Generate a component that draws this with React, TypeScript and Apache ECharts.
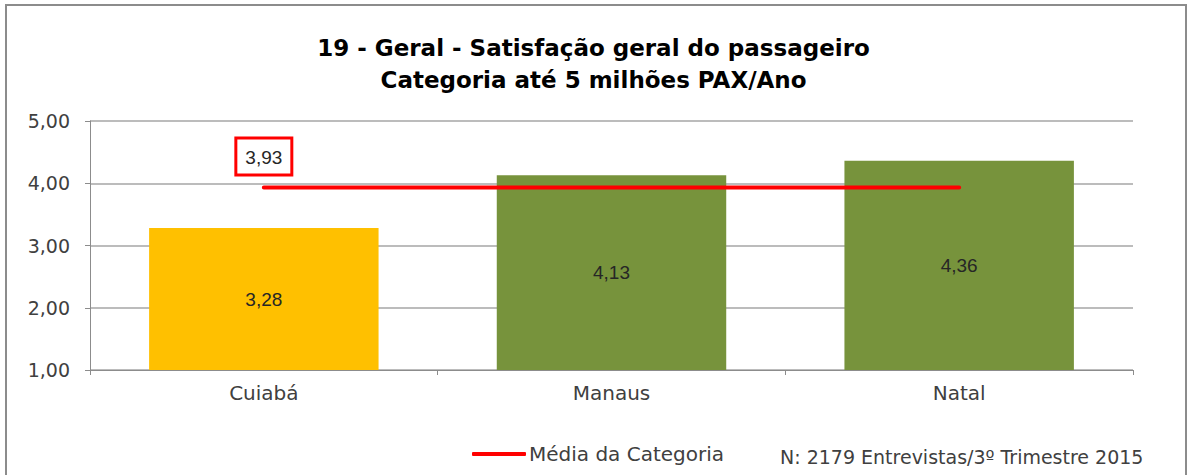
import React, { useEffect, useRef } from "react";
import * as echarts from "echarts";

const titleLines = ["19 - Geral - Satisfação geral do passageiro", "Categoria até 5 milhões PAX/Ano"];
const categories = ["Cuiabá", "Manaus", "Natal"];
const satisfaction = [3.28, 4.13, 4.36];
const barColors = ["#FFC000", "#77933C", "#77933C"];
const categoryAverage = [3.93, 3.93, 3.93];
const averageName = "Média da Categoria";
const footnote = "N: 2179 Entrevistas/3º Trimestre 2015";

const FONT = "'DejaVu Sans', sans-serif";
const LABEL_FONT = "'Liberation Sans', Arial, sans-serif";
const fmt = (v: number) => v.toFixed(2).replace(".", ",");

export default function App() {
  const ref = useRef<HTMLDivElement>(null);
  useEffect(() => {
    if (!ref.current) return;
    const chart = echarts.init(ref.current, null, { renderer: "svg" });
    chart.setOption({
      animation: false,
      backgroundColor: "#ffffff",
      textStyle: { fontFamily: FONT },
      title: {
        text: titleLines.join("\n"),
        left: "center",
        top: 27,
        textStyle: { fontFamily: FONT, fontSize: 23, fontWeight: "bold", color: "#000", lineHeight: 32 },
      },
      grid: { left: 90, right: 54, top: 121, bottom: 105 },
      legend: {
        data: [{ name: averageName, icon: "roundRect" }],
        left: 467,
        top: 439,
        itemWidth: 54,
        itemHeight: 4,
        itemGap: 4,
        textStyle: { fontFamily: FONT, fontSize: 20, color: "#404040", padding: [0, 0, 0, -2] },
      },
      xAxis: {
        type: "category",
        data: categories,
        axisLine: { show: true, lineStyle: { color: "#8C8C8C", width: 1 } },
        axisTick: { show: true, length: 5, lineStyle: { color: "#8C8C8C" } },
        axisLabel: { fontFamily: FONT, fontSize: 20, color: "#404040", margin: 13 },
      },
      yAxis: {
        type: "value",
        min: 1,
        max: 5,
        interval: 1,
        axisLine: { show: true, lineStyle: { color: "#8C8C8C", width: 1 } },
        axisTick: { show: true, length: 5, lineStyle: { color: "#8C8C8C" } },
        axisLabel: { fontFamily: FONT, fontSize: 19, color: "#404040", margin: 20, formatter: (v: number) => fmt(v) },
        splitLine: { lineStyle: { color: "#A6A6A6", width: 1.5 } },
      },
      series: [
        {
          type: "bar",
          name: "Satisfação",
          barWidth: "66%",
          data: satisfaction.map((v, i) => ({ value: v, itemStyle: { color: barColors[i] } })),
          label: {
            show: true,
            position: "inside",
            fontFamily: LABEL_FONT,
            fontSize: 19,
            color: "#262626",
            formatter: (p: any) => fmt(p.value),
          },
        },
        {
          type: "line",
          name: averageName,
          symbol: "none",
          lineStyle: { color: "#FF0000", width: 4, cap: "round" },
          itemStyle: { color: "#FF0000" },
          data: categoryAverage,
        },
        {
          type: "scatter",
          name: "avgLabel",
          symbolSize: 0,
          itemStyle: { color: "#ffffff", opacity: 1 },
          emphasis: { disabled: true },
          silent: true,
          data: [[0, categoryAverage[0]]],
          label: {
            show: true,
            position: "top",
            distance: 14,
            opacity: 1,
            formatter: (p: any) => fmt(p.value[1]),
            fontFamily: LABEL_FONT,
            fontSize: 19,
            color: "#262626",
            borderColor: "#FF0000",
            borderWidth: 3,
            backgroundColor: "#fff",
            padding: [8, 8, 7, 8],
          },
          z: 5,
        },
      ],
      graphic: [
        {
          type: "rect",
          shape: { x: 6, y: 5, width: 1180, height: 520 },
          style: { fill: "none", stroke: "#8C8C8C", lineWidth: 2 },
          silent: true,
          z: -1,
        },
        {
          type: "text",
          left: 780,
          top: 447,
          style: { text: footnote, fontFamily: FONT, fontSize: 19, fill: "#404040" },
        },
      ],
    });
    return () => chart.dispose();
  }, []);
  return (
    <div
      ref={ref}
      style={{ position: "absolute", left: 0, top: 0, width: 1187, height: 475 }}
    />
  );
}
